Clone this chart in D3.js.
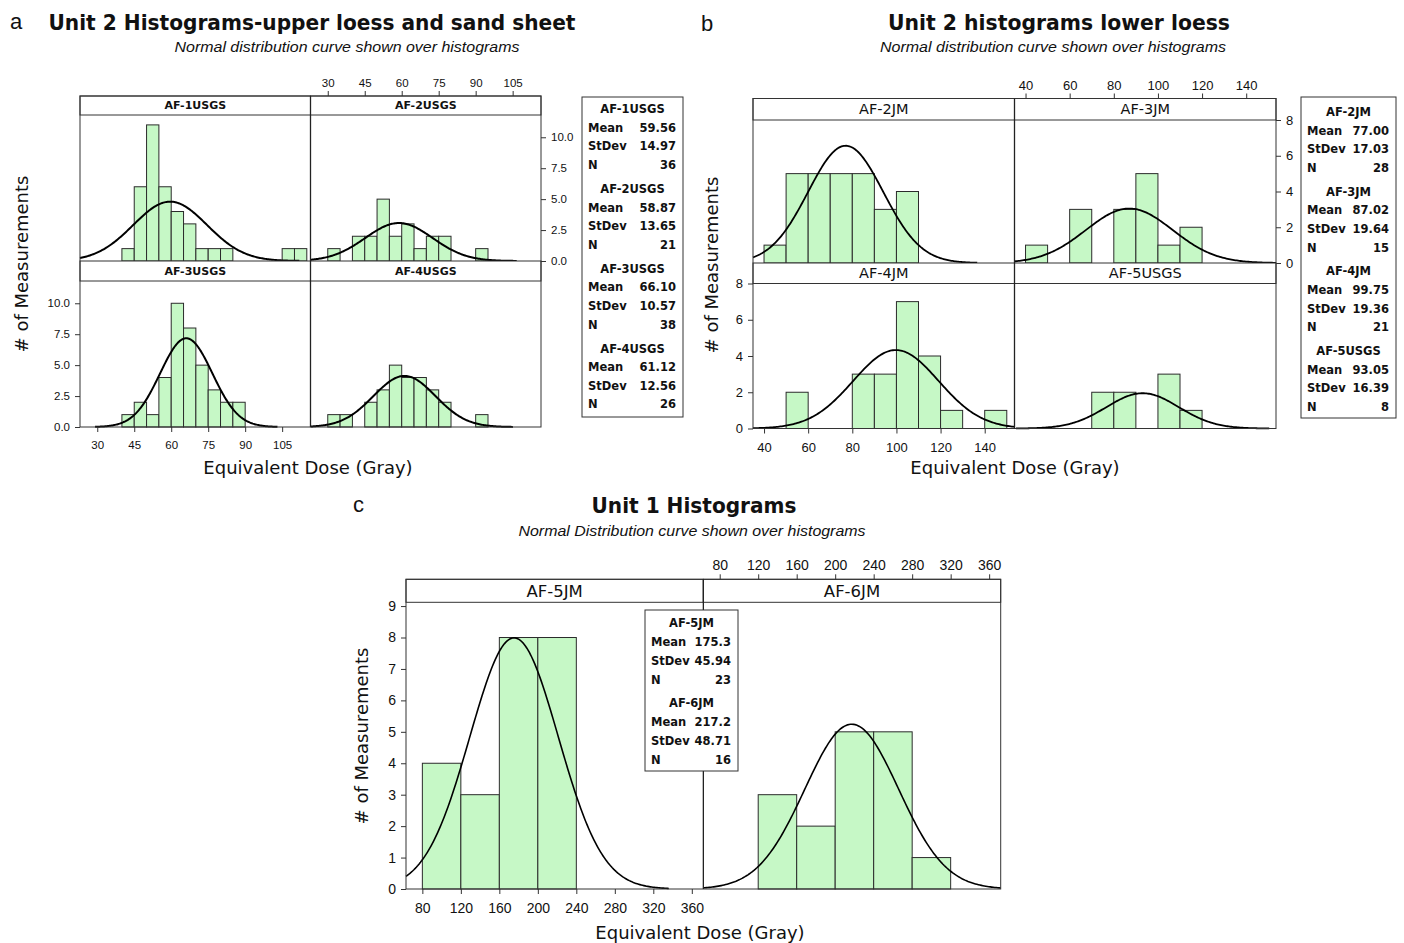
<!DOCTYPE html>
<html>
<head>
<meta charset="utf-8">
<script src="https://cdn.jsdelivr.net/npm/d3@7"></script>
<style>
body { margin: 0; background: #fff; }
text { font-family: "DejaVu Sans", Verdana, sans-serif; fill: #111; }
</style>
</head>
<body>
<svg id="chart" width="1404" height="943"></svg>
<script>
// ---------- data ----------

// a: Unit 2 upper loess and sand sheet (bins of 5 Gy, first bin starts at 30)
const aNames = ["AF-1USGS", "AF-2USGS", "AF-3USGS", "AF-4USGS"];
const af1usgs = [0, 0, 1, 6, 11, 6, 4, 3, 1, 1, 1, 0, 0, 0, 0, 1, 1];
const af2usgs = [1, 0, 2, 2, 5, 2, 3, 1, 2, 2, 0, 0, 1];
const af3usgs = [0, 0, 1, 2, 1, 4, 10, 8, 5, 3, 2, 2];
const af4usgs = [1, 1, 0, 2, 3, 5, 4, 4, 3, 2, 0, 0, 1];
const aMeans = [59.56, 58.87, 66.10, 61.12];
const aSd = [14.97, 13.65, 10.57, 12.56];
const aN = [36, 21, 38, 26];
const aTicksX = [30, 45, 60, 75, 90, 105];
const aTicksY = [0, 2.5, 5, 7.5, 10];

// b: Unit 2 lower loess (bins of 10 Gy, first bin starts at 40)
const bNames = ["AF-2JM", "AF-3JM", "AF-4JM", "AF-5USGS"];
const af2jm = [1, 5, 5, 5, 5, 3, 4];
const af3jm = [1, 0, 3, 0, 3, 5, 1, 2];
const af4jm = [0, 2, 0, 0, 3, 3, 7, 4, 1, 0, 1];
const af5usgs = [0, 0, 0, 2, 2, 0, 3, 1];
const bMeans = [77.00, 87.02, 99.75, 93.05];
const bSd = [17.03, 19.64, 19.36, 16.39];
const bN = [28, 15, 21, 8];
const bTicksX = [40, 60, 80, 100, 120, 140];
const bTicksY = [0, 2, 4, 6, 8];

// c: Unit 1 (bins of 40 Gy, first bin starts at 80)
const cNames = ["AF-5JM", "AF-6JM"];
const af5jm = [4, 3, 8, 8];
const af6jm = [0, 3, 2, 5, 5, 1];
const cMeans = [175.3, 217.2];
const cSd = [45.94, 48.71];
const cN = [23, 16];
const cTicksX = [80, 120, 160, 200, 240, 280, 320, 360];
const cTicksY = [0, 1, 2, 3, 4, 5, 6, 7, 8, 9];

// ---------- drawing ----------
const svg = d3.select("#chart");
const tickFont = "'Liberation Sans', Arial, sans-serif";

function facet(cfg) {
    const g = svg.append("g");
    const colW = (cfg.right - cfg.left) / 2;
    const x = [0, 1].map(c => d3.scaleLinear()
        .domain(cfg.xDomain)
        .range([cfg.left + c * colW, cfg.left + (c + 1) * colW]));
    const y = cfg.rows.map(r => d3.scaleLinear().domain([0, cfg.yMax]).range([r.pBot, r.pTop]));

    cfg.names.forEach(function (name, i) {
        const c = i % 2, r = Math.floor(i / 2);
        const xs = x[c], ys = y[r];
        const bars = cfg.counts[i].map((n, k) => ({
            x0: cfg.binStart + k * cfg.binWidth,
            x1: cfg.binStart + (k + 1) * cfg.binWidth,
            n: n
        })).filter(d => d.n > 0);

        g.append("g").selectAll("rect")
            .data(bars)
            .enter()
            .append("rect")
            .attr("x", d => xs(d.x0))
            .attr("y", d => ys(d.n))
            .attr("width", d => xs(d.x1) - xs(d.x0))
            .attr("height", d => ys(0) - ys(d.n))
            .attr("fill", "#c6f8c6")
            .attr("stroke", "#2b2b2b")
            .attr("stroke-width", 1);

        // fitted normal curve, scaled to counts
        const mean = cfg.means[i], sd = cfg.sds[i], n = cfg.ns[i];
        const lo = Math.max(cfg.xDomain[0], mean - 3.5 * sd);
        const hi = Math.min(cfg.xDomain[1], mean + 3.5 * sd);
        const k = n * cfg.binWidth / (sd * Math.sqrt(2 * Math.PI));
        const pts = d3.range(0, 201).map(j => lo + (hi - lo) * j / 200);
        const line = d3.line()
            .x(v => xs(v))
            .y(v => ys(k * Math.exp(-0.5 * Math.pow((v - mean) / sd, 2))));
        g.append("path")
            .datum(pts)
            .attr("d", line)
            .attr("fill", "none")
            .attr("stroke", "#000")
            .attr("stroke-width", cfg.curveW);

        // strip header
        const row = cfg.rows[r];
        g.append("rect")
            .attr("x", cfg.left + c * colW)
            .attr("y", row.hTop)
            .attr("width", colW)
            .attr("height", row.pTop - row.hTop)
            .attr("fill", "#fff")
            .attr("stroke", "#333");
        g.append("text")
            .attr("x", cfg.left + c * colW + colW / 2)
            .attr("y", (row.hTop + row.pTop) / 2)
            .attr("dy", "0.36em")
            .attr("text-anchor", "middle")
            .style("font-size", cfg.headFont + "px")
            .style("font-weight", cfg.headBold ? "bold" : "normal")
            .text(name);
    });

    // frame and column divider
    const top = cfg.rows[0].hTop, bot = cfg.rows[cfg.rows.length - 1].pBot;
    g.append("rect")
        .attr("x", cfg.left).attr("y", top)
        .attr("width", cfg.right - cfg.left).attr("height", bot - top)
        .attr("fill", "none").attr("stroke", "#333");
    g.append("line")
        .attr("x1", cfg.left + colW).attr("x2", cfg.left + colW)
        .attr("y1", top).attr("y2", bot)
        .attr("stroke", "#222").attr("stroke-width", 1.3);

    function style(ax) {
        ax.select(".domain").remove();
        ax.selectAll("line").attr("stroke", "#333");
        ax.selectAll("text")
            .style("font-family", tickFont)
            .style("font-size", cfg.tickFont + "px")
            .attr("fill", "#222");
    }

    const last = cfg.rows.length - 1;
    // x axes: bottom under left column, top over right column
    g.append("g")
        .attr("transform", "translate(0," + cfg.rows[last].pBot + ")")
        .call(d3.axisBottom(x[0]).tickValues(cfg.xTicks).tickSize(5).tickSizeOuter(0).tickPadding(9))
        .call(style);
    g.append("g")
        .attr("transform", "translate(0," + cfg.rows[0].hTop + ")")
        .call(d3.axisTop(x[1]).tickValues(cfg.xTicks).tickSize(5).tickSizeOuter(0).tickPadding(4))
        .call(style);
    // y axes: right for top row, left for bottom row (or left only for one row)
    if (cfg.rows.length > 1) {
        g.append("g")
            .attr("transform", "translate(" + cfg.right + ",0)")
            .call(d3.axisRight(y[0]).tickValues(cfg.yTicks).tickFormat(cfg.yFmt).tickSize(5).tickSizeOuter(0).tickPadding(5))
            .call(style);
    }
    g.append("g")
        .attr("transform", "translate(" + cfg.left + ",0)")
        .call(d3.axisLeft(y[last]).tickValues(cfg.yTicks).tickFormat(cfg.yFmt).tickSize(5).tickSizeOuter(0).tickPadding(5))
        .call(style);
}

function legend(cfg) {
    const g = svg.append("g");
    g.append("rect")
        .attr("x", cfg.x0).attr("y", cfg.y0)
        .attr("width", cfg.x1 - cfg.x0).attr("height", cfg.y1 - cfg.y0)
        .attr("fill", "#fff").attr("stroke", "#333");
    cfg.names.forEach(function (name, i) {
        const yc = cfg.first + i * cfg.groupGap;
        const rows = [["Mean", cfg.meanFmt(cfg.means[i])], ["StDev", d3.format(".2f")(cfg.sds[i])], ["N", cfg.ns[i]]];
        g.append("text")
            .attr("x", (cfg.x0 + cfg.x1) / 2).attr("y", yc).attr("dy", "0.36em")
            .attr("text-anchor", "middle")
            .style("font-size", "11.5px").style("font-weight", "bold")
            .text(name);
        rows.forEach(function (rw, j) {
            const yy = yc + (j + 1) * cfg.lineH;
            g.append("text")
                .attr("x", cfg.x0 + 6).attr("y", yy).attr("dy", "0.36em")
                .style("font-size", "11.5px").style("font-weight", "bold")
                .text(rw[0]);
            g.append("text")
                .attr("x", cfg.x1 - 7).attr("y", yy).attr("dy", "0.36em")
                .attr("text-anchor", "end")
                .style("font-size", "11.5px").style("font-weight", "bold")
                .text(rw[1]);
        });
    });
}

function label(txt, x, y, opts) {
    const t = svg.append("text")
        .attr("x", x).attr("y", y)
        .attr("text-anchor", opts.anchor || "middle")
        .style("font-size", opts.size + "px")
        .style("font-weight", opts.bold ? "bold" : "normal")
        .style("font-style", opts.italic ? "italic" : "normal")
        .text(txt);
    if (opts.family) t.style("font-family", opts.family);
    if (opts.len) t.attr("textLength", opts.len).attr("lengthAdjust", "spacingAndGlyphs");
    if (opts.rotate) t.attr("transform", "rotate(-90," + x + "," + y + ")");
    return t;
}

// panel a
facet({
    left: 80, right: 541,
    rows: [{ hTop: 96, pTop: 115, pBot: 261 }, { hTop: 261, pTop: 281, pBot: 427 }],
    xDomain: [23, 116.5], yMax: 11.8,
    names: aNames, counts: [af1usgs, af2usgs, af3usgs, af4usgs],
    binStart: 30, binWidth: 5,
    means: aMeans, sds: aSd, ns: aN,
    xTicks: aTicksX, yTicks: aTicksY, yFmt: d3.format(".1f"),
    tickFont: 11.5, headFont: 11, headBold: true, curveW: 2
});
legend({
    x0: 582, x1: 683, y0: 97, y1: 417, first: 109, groupGap: 79.8, lineH: 18.6,
    names: aNames, means: aMeans, sds: aSd, ns: aN, meanFmt: d3.format(".2f")
});

// panel b
facet({
    left: 753, right: 1276,
    rows: [{ hTop: 98.5, pTop: 120, pBot: 263 }, { hTop: 263, pTop: 283.5, pBot: 428.5 }],
    xDomain: [35, 153.5], yMax: 8,
    names: bNames, counts: [af2jm, af3jm, af4jm, af5usgs],
    binStart: 40, binWidth: 10,
    means: bMeans, sds: bSd, ns: bN,
    xTicks: bTicksX, yTicks: bTicksY, yFmt: d3.format("d"),
    tickFont: 13, headFont: 14.5, headBold: false, curveW: 1.8
});
legend({
    x0: 1301, x1: 1396, y0: 97, y1: 418, first: 112, groupGap: 79.6, lineH: 18.6,
    names: bNames, means: bMeans, sds: bSd, ns: bN, meanFmt: d3.format(".2f")
});

// panel c
facet({
    left: 406, right: 1000.7,
    rows: [{ hTop: 579.3, pTop: 602.3, pBot: 889 }],
    xDomain: [63, 372], yMax: 9.12,
    names: cNames, counts: [af5jm, af6jm],
    binStart: 80, binWidth: 40,
    means: cMeans, sds: cSd, ns: cN,
    xTicks: cTicksX, yTicks: cTicksY, yFmt: d3.format("d"),
    tickFont: 14, headFont: 16.5, headBold: false, curveW: 1.6
});
legend({
    x0: 645, x1: 738, y0: 610, y1: 771, first: 623, groupGap: 80, lineH: 19,
    names: cNames, means: cMeans, sds: cSd, ns: cN, meanFmt: d3.format(".1f")
});

// titles and axis labels
const letterFont = "'Liberation Sans', Arial, sans-serif";
label("a", 10, 29, { size: 22, anchor: "start", family: letterFont });
label("Unit 2 Histograms-upper loess and sand sheet", 312, 30, { size: 21, bold: true, len: 527 });
label("Normal distribution curve shown over histograms", 347, 52, { size: 14, italic: true, len: 345, family: letterFont });
label("b", 701, 31, { size: 22, anchor: "start", family: letterFont });
label("Unit 2 histograms lower loess", 1059, 30, { size: 21, bold: true, len: 342 });
label("Normal distribution curve shown over histograms", 1053, 52, { size: 14, italic: true, len: 346, family: letterFont });
label("c", 353, 512, { size: 22, anchor: "start", family: letterFont });
label("Unit 1 Histograms", 694, 513, { size: 21, bold: true, len: 205 });
label("Normal Distribution curve shown over histograms", 692, 536, { size: 14, italic: true, len: 347, family: letterFont });

label("# of Measurements", 28, 264, { size: 18, rotate: true });
label("# of Measurements", 718, 265, { size: 18, rotate: true });
label("# of Measurements", 368, 736, { size: 18, rotate: true });
label("Equivalent Dose (Gray)", 308, 474, { size: 18 });
label("Equivalent Dose (Gray)", 1015, 474, { size: 18 });
label("Equivalent Dose (Gray)", 700, 939, { size: 18 });
</script>
</body>
</html>
